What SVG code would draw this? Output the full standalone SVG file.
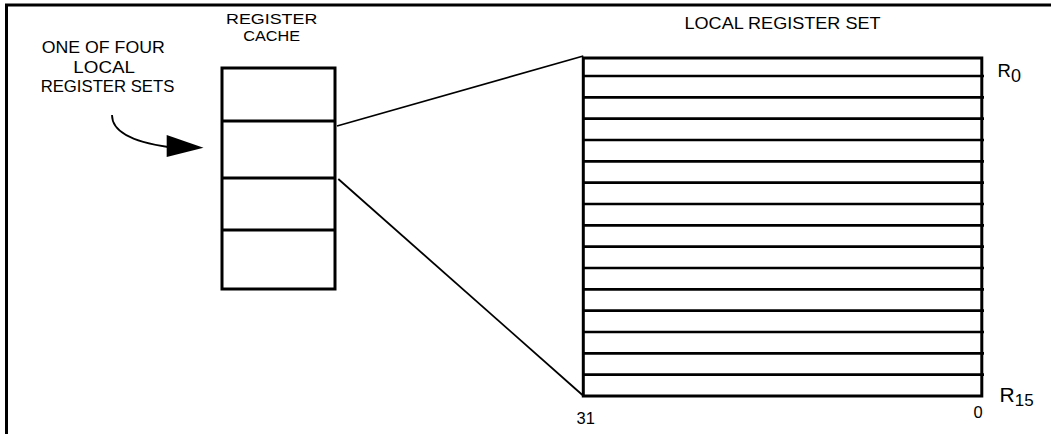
<svg xmlns="http://www.w3.org/2000/svg" width="1051" height="434" viewBox="0 0 1051 434">
<style>
text{font-family:"Liberation Sans",Arial,sans-serif;font-size:17px;fill:#000}
.box{fill:none;stroke:#000;stroke-width:3}
.row{stroke:#000;stroke-width:2.7}
.conn{stroke:#000;stroke-width:1.8;fill:none}
</style>
<rect width="1051" height="434" fill="#fff"/>
<g id="frame">
<line x1="5" y1="5" x2="1051" y2="5" stroke="#000" stroke-width="3"/>
<line x1="6.5" y1="5" x2="6.5" y2="434" stroke="#000" stroke-width="3"/>
</g>
<g id="label-one-of-four">
<text x="103.3" y="53.3" text-anchor="middle" textLength="123" lengthAdjust="spacingAndGlyphs">ONE OF FOUR</text>
<text x="104.2" y="73" text-anchor="middle" textLength="61.7" lengthAdjust="spacingAndGlyphs">LOCAL</text>
<text x="107.5" y="92" text-anchor="middle" textLength="133.7" lengthAdjust="spacingAndGlyphs">REGISTER SETS</text>
</g>
<g id="register-cache">
<text x="271.7" y="24" text-anchor="middle" textLength="91.3" lengthAdjust="spacingAndGlyphs" style="font-size:15.5px">REGISTER</text>
<text x="271.7" y="40.7" text-anchor="middle" textLength="56.7" lengthAdjust="spacingAndGlyphs" style="font-size:15.5px">CACHE</text>
<rect class="box" x="222" y="68" width="113" height="221"/>
<line class="box" x1="222" y1="121" x2="335" y2="121"/>
<line class="box" x1="222" y1="178" x2="335" y2="178"/>
<line class="box" x1="222" y1="230" x2="335" y2="230"/>
</g>
<g id="local-register-set">
<text x="782.5" y="29.3" text-anchor="middle" textLength="196" lengthAdjust="spacingAndGlyphs">LOCAL REGISTER SET</text>
<rect class="box" x="583.3" y="58" width="398.5" height="338"/>
<line class="row" x1="583" y1="76" x2="984" y2="76"/>
<line class="row" x1="583" y1="97.3" x2="984" y2="97.3"/>
<line class="row" x1="583" y1="118.7" x2="984" y2="118.7"/>
<line class="row" x1="583" y1="140" x2="984" y2="140"/>
<line class="row" x1="583" y1="161.3" x2="984" y2="161.3"/>
<line class="row" x1="583" y1="182.7" x2="984" y2="182.7"/>
<line class="row" x1="583" y1="204" x2="984" y2="204"/>
<line class="row" x1="583" y1="225.3" x2="984" y2="225.3"/>
<line class="row" x1="583" y1="246.7" x2="984" y2="246.7"/>
<line class="row" x1="583" y1="268" x2="984" y2="268"/>
<line class="row" x1="583" y1="289.3" x2="984" y2="289.3"/>
<line class="row" x1="583" y1="310.7" x2="984" y2="310.7"/>
<line class="row" x1="583" y1="332" x2="984" y2="332"/>
<line class="row" x1="583" y1="353.3" x2="984" y2="353.3"/>
<line class="row" x1="583" y1="374.7" x2="984" y2="374.7"/>
<text x="997.5" y="77" style="font-size:18.5px">R<tspan dy="4.5" style="font-size:18px">0</tspan></text>
<text x="999.5" y="401.5" style="font-size:21px">R<tspan dy="4.5" style="font-size:17px">15</tspan></text>
<text x="576.5" y="424.3" style="font-size:16.5px">31</text>
<text x="973.5" y="418.3" style="font-size:16.5px">0</text>
</g>
<g id="connectors">
<line class="conn" x1="337" y1="126" x2="583.3" y2="56"/>
<line class="conn" x1="338.3" y1="179" x2="583" y2="395.5"/>
<path class="conn" d="M112,115 C112,134 140,143 168,147" stroke-width="1.4"/>
<polygon points="166.7,135 203.5,147.7 166.7,157" fill="#000"/>
</g>
</svg>
